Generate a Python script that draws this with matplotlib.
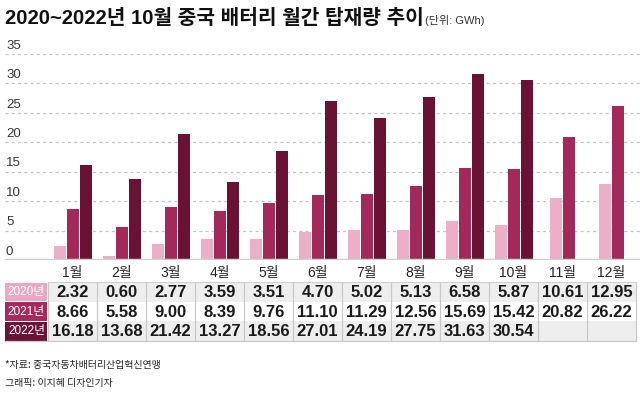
import matplotlib
matplotlib.use("Agg")
import matplotlib.pyplot as plt
from matplotlib.patches import Rectangle
import matplotlib.transforms as mtransforms

# ---- data ----
months = ["1월", "2월", "3월", "4월", "5월", "6월", "7월", "8월", "9월", "10월", "11월", "12월"]
years = ["2020년", "2021년", "2022년"]
v2020 = [2.32, 0.60, 2.77, 3.59, 3.51, 4.70, 5.02, 5.13, 6.58, 5.87, 10.61, 12.95]
v2021 = [8.66, 5.58, 9.00, 8.39, 9.76, 11.10, 11.29, 12.56, 15.69, 15.42, 20.82, 26.22]
v2022 = [16.18, 13.68, 21.42, 13.27, 18.56, 27.01, 24.19, 27.75, 31.63, 30.54, None, None]
yticks = [0, 5, 10, 15, 20, 25, 30, 35]
title = "2020~2022년 10월 중국 배터리 월간 탑재량 추이"
unit = "(단위: GWh)"
source = "*자료: 중국자동차배터리산업혁신연맹"
credit = "그래픽: 이지혜 디자인기자"

bar_colors = ["#edafc8", "#a3295b", "#6a1234"]
head_colors = ["#e9a7c3", "#a52a5d", "#6b1437"]

FN = ["Liberation Sans", "Noto Sans CJK KR", "DejaVu Sans"]
FK = ["Noto Sans CJK KR", "DejaVu Sans"]

W, H = 640, 398
fig = plt.figure(figsize=(W / 100, H / 100), dpi=100)

# pixel layout
ax_left, ax_right, ax_top, ax_bot = 5, 640, 54, 260
c0, step = 72.5, 49.0
ax = fig.add_axes([ax_left / W, 1 - ax_bot / H, (ax_right - ax_left) / W, (ax_bot - ax_top) / H])
ax.set_xlim((ax_left - c0) / step, (ax_right - c0) / step)
ax.set_ylim(0, 35)

bw = 12 / step
off = 13 / step
series = [v2020, v2021, v2022]
for i in range(len(months)):
    present = [k for k in range(3) if series[k][i] is not None]
    n = len(present)
    for j, k in enumerate(present):
        x = i + (j - (n - 1) / 2) * off
        ax.bar(x, series[k][i], width=bw, color=bar_colors[k], zorder=3, linewidth=0)

for sp in ax.spines.values():
    sp.set_visible(False)
ax.set_yticks([])
for t in yticks[1:]:
    ax.axhline(t, color="#c4c4c4", lw=0.9, ls=(0, (2.5, 2.5)), zorder=1)
ax.axhline(0, color="#cfcfcf", lw=2.5, zorder=4)
tr = mtransforms.blended_transform_factory(ax.transAxes, ax.transData)
for t in yticks:
    ax.text(1 / (ax_right - ax_left), t + 0.9, str(t), transform=tr, ha="left", va="baseline",
            fontsize=9.5, family=FN, color="#333333")

ax.set_xticks(range(len(months)))
ax.set_xticklabels(months, fontsize=10, family=FN, color="#222222")
ax.tick_params(axis="x", length=0, pad=4)

# overlay for table and texts in pixel coordinates
ov = fig.add_axes([0, 0, 1, 1])
ov.set_xlim(0, W)
ov.set_ylim(H, 0)
ov.axis("off")

ov.text(5, 18, title, fontsize=14.6, fontweight="bold", family=FN, ha="left", va="center", color="#111111")
ov.text(425, 21, unit, fontsize=8, family=FN, ha="left", va="center", color="#333333")

tab_top, row_h = 282, 19.7
hx0, hx1 = 5, 48
row_bg = ["#eeeeee", "#ffffff", "#eeeeee"]
for r in range(3):
    y0 = tab_top + r * row_h
    ov.add_patch(Rectangle((hx1, y0), ax_right - 4 - hx1, row_h, color=row_bg[r], lw=0, zorder=1))
    ov.add_patch(Rectangle((hx0, y0 + 0.5), hx1 - hx0 - 1, row_h - 1, color=head_colors[r], lw=0, zorder=2))
    ov.text((hx0 + hx1) / 2, y0 + row_h / 2, years[r], color="white", fontsize=8.5, family=FN,
            ha="center", va="center", zorder=3)
    for i in range(12):
        v = series[r][i]
        if v is None:
            continue
        ov.text(c0 + i * step, y0 + row_h / 2 + 0.5, f"{v:.2f}", fontsize=12, fontweight="bold",
                family=FN, ha="center", va="center", color="#1a1a1a", zorder=3)
tab_bot = tab_top + 3 * row_h
for i in range(13):
    x = hx1 + i * step
    ov.plot([x, x], [tab_top, tab_bot], color="#c8c8c8", lw=0.9, zorder=2)
ov.plot([hx1, ax_right - 4], [tab_top, tab_top], color="#d0d0d0", lw=0.8, zorder=2)
ov.plot([hx0, ax_right - 4], [tab_bot, tab_bot], color="#c8c8c8", lw=0.9, zorder=2)

ov.text(5, 365, source, fontsize=7.2, family=FK, ha="left", va="center", color="#222222")
ov.text(5, 383, credit, fontsize=7.2, family=FK, ha="left", va="center", color="#222222")

fig.savefig("out.png", dpi=100)
